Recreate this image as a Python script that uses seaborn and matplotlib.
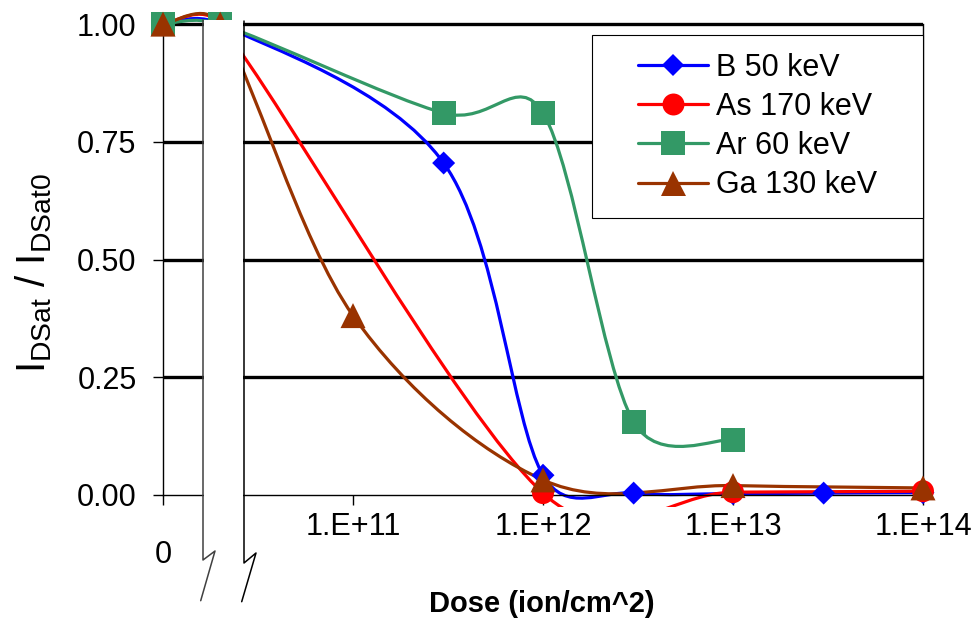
import numpy as np
import pandas as pd
import matplotlib.pyplot as plt
import matplotlib.transforms as mtrans
import seaborn as sns
from matplotlib.path import Path
from matplotlib.patches import PathPatch, Rectangle
from matplotlib.lines import Line2D
from matplotlib.ticker import NullLocator

# Datos (dosis en ion/cm^2, 0 = sin implantar)
b_dose = [0, 2e10, 3e11, 1e12, 3e12, 1e13, 3e13, 1e14]
b_ratio = [1.0, 1.0, 0.705, 0.042, 0.004, 0.003, 0.004, 0.005]
as_dose = [0, 2e10, 1e12, 1e13, 1e14]
as_ratio = [1.0, 1.0, 0.004, 0.006, 0.008]
ar_dose = [0, 2e10, 3e11, 1e12, 3e12, 1e13]
ar_ratio = [1.0, 1.0, 0.811, 0.811, 0.155, 0.117]
ga_dose = [0, 2e10, 1e11, 1e12, 1e13, 1e14]
ga_ratio = [1.0, 1.0, 0.381, 0.032, 0.020, 0.015]

labels = ['B 50 keV', 'As 170 keV', 'Ar 60 keV', 'Ga 130 keV']
colors = ['#0000FF', '#FF0000', '#339966', '#993300']
markers = ['D', 'o', 's', '^']
msizes = [11.7, 15.8, 17.3, 18.0]

x_ticks = [1e11, 1e12, 1e13, 1e14]
x_ticklabels = ['1.E+11', '1.E+12', '1.E+13', '1.E+14']
y_ticks = [0, 0.25, 0.5, 0.75, 1.0]
y_ticklabels = ['0.00', '0.25', '0.50', '0.75', '1.00']
zero_pos = 1e10  # posicion de la dosis 0 en el eje log

sns.set_theme(style='white', rc={'text.color': 'black', 'axes.labelcolor': 'black',
                                 'xtick.color': 'black', 'ytick.color': 'black'})
plt.rcParams['font.family'] = ['Liberation Sans', 'DejaVu Sans']

doses = [b_dose, as_dose, ar_dose, ga_dose]
ratios = [b_ratio, as_ratio, ar_ratio, ga_ratio]
df = pd.concat([pd.DataFrame({'Dose': d, 'Ratio': r, 'Serie': lab})
                for d, r, lab in zip(doses, ratios, labels)], ignore_index=True)
df['pos'] = df['Dose'].replace(0, zero_pos)

fig = plt.figure(figsize=(9.8, 6.21), dpi=100)
ax = fig.add_axes([163 / 980, 114 / 621, 760 / 980, 497 / 621])
ax.set_xscale('log')
ax.set_xlim(1e10, 1e14)
ax.set_ylim(-0.0255, 1.03)


# Linea suavizada tipo Excel (Bezier a partir de los puntos)
def smooth_path(xs, ys):
    pts = ax.transData.transform(np.column_stack([xs, ys]))
    n = len(pts)
    verts = [pts[0]]
    for i in range(n - 1):
        p0, p1 = pts[max(i - 1, 0)], pts[i]
        p2, p3 = pts[i + 1], pts[min(i + 2, n - 1)]
        seg = np.hypot(*(p2 - p1))
        t1 = (p2 - p0) / 6
        t2 = (p3 - p1) / 6
        lim = 0.5 * seg
        if np.hypot(*t1) > lim:
            t1 = t1 * lim / np.hypot(*t1)
        if np.hypot(*t2) > lim:
            t2 = t2 * lim / np.hypot(*t2)
        verts += [p1 + t1, p2 - t2, p2]
    codes = [Path.MOVETO] + [Path.CURVE4] * (3 * (n - 1))
    verts = ax.transData.inverted().transform(np.array(verts))
    return Path(verts, codes)


for lab, c in zip(labels, colors):
    sub = df[df['Serie'] == lab]
    ax.add_patch(PathPatch(smooth_path(sub['pos'].values, sub['Ratio'].values),
                           fill=False, edgecolor=c, lw=2.3, zorder=2))

sns.scatterplot(data=df, x='pos', y='Ratio', hue='Serie', style='Serie', size='Serie',
                palette=dict(zip(labels, colors)), markers=dict(zip(labels, markers)),
                sizes=dict(zip(labels, [m ** 2 for m in msizes])),
                linewidth=0, legend=False, ax=ax, zorder=3, clip_on=False)

# lineas horizontales de la rejilla
for v in y_ticks[1:]:
    ax.axhline(v, color='black', lw=2.4, zorder=1.5)

ax.spines['top'].set_visible(False)
ax.spines['bottom'].set_position(('data', 0))
ax.spines['left'].set_bounds(0, 1)
ax.spines['right'].set_bounds(0, 1)
for s in ['left', 'right', 'bottom']:
    ax.spines[s].set_color('black')
    ax.spines[s].set_linewidth(1.0)

ax.set_xticks([zero_pos] + x_ticks)
ax.set_xticklabels([''] + x_ticklabels)
ax.xaxis.set_minor_locator(NullLocator())
ax.set_yticks(y_ticks)
ax.set_yticklabels(y_ticklabels)
ax.tick_params(axis='x', bottom=True, direction='out', length=7, width=1, pad=5, labelsize=22)
ax.tick_params(axis='y', left=True, direction='out', length=7, width=1, pad=12, labelsize=22)

ax.set_ylabel(r'$\mathregular{I_{DSat}}$ / $\mathregular{I_{DSat0}}$', fontsize=29)
ax.yaxis.set_label_coords(-0.143, 0.47)
ax.set_xlabel('Dose (ion/cm^2)', fontsize=21, fontweight='bold')
ax.xaxis.set_label_coords(0.498, -0.167)

trans = mtrans.blended_transform_factory(ax.transData, ax.transAxes)
ax.text(zero_pos, -0.0966, '0', fontsize=22, ha='center', va='center', transform=trans)

# leyenda con caja propia
ax.add_patch(Rectangle((592 / 980, 1 - 218 / 621), 331 / 980, 183 / 621, transform=fig.transFigure,
                       facecolor='white', edgecolor='black', lw=0.8, zorder=4, clip_on=False))
handles = [Line2D([], [], color=c, lw=2.3, marker=m, markersize=ms, markeredgewidth=0)
           for c, m, ms in zip(colors, markers, msizes)]
ax.legend(handles, labels, loc='center', bbox_to_anchor=(757.5 / 980, 1 - 126.5 / 621),
          bbox_transform=fig.transFigure, frameon=False, fontsize=22,
          handlelength=2.3, handletextpad=0.26, labelspacing=0.3)


# corte del eje x
def fx(x):
    return x / 980


def fy(y):
    return 1 - y / 621


fig.add_artist(Rectangle((fx(204), fy(566)), 39 / 980, 546 / 621, transform=fig.transFigure,
                         facecolor='white', edgecolor='none', zorder=5))
fig.add_artist(Line2D([fx(203), fx(203), fx(215), fx(200.7)], [fy(20), fy(560), fy(551), fy(600.7)],
                      transform=fig.transFigure, color='#404040', lw=1.1, zorder=6))
fig.add_artist(Line2D([fx(244), fx(244), fx(256), fx(241.7)], [fy(21), fy(563), fy(553), fy(601.7)],
                      transform=fig.transFigure, color='black', lw=1.1, zorder=6))

fig.savefig('out.png', dpi=100)
